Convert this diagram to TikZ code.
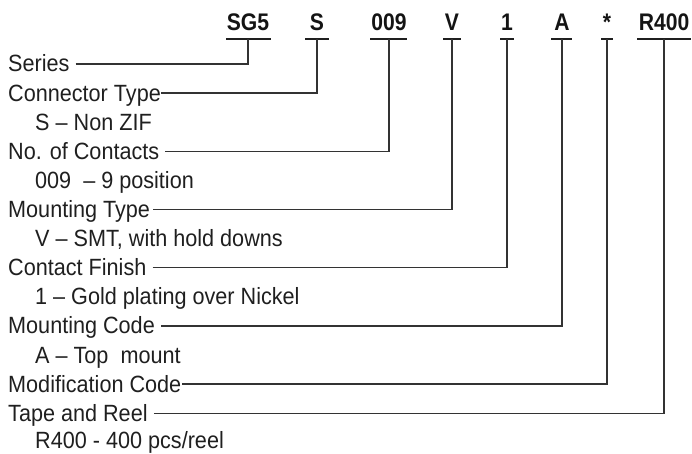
\documentclass[tikz,border=0pt]{standalone}
\usepackage{fontspec}
\setmainfont[FakeStretch=0.92]{Liberation Sans}
\newfontfamily\codefont[FakeStretch=0.88]{Liberation Sans}
\begin{document}
\begin{tikzpicture}[x=1pt,y=-1pt,
  lbl/.style={anchor=base west,inner sep=0pt,font=\fontsize{23.5}{23.5}\selectfont,text=black!88},
  code/.style={anchor=base,inner sep=0pt,font=\codefont\bfseries\fontsize{24}{24}\selectfont,text=black!92},
  lead/.style={draw=black!80,line width=1.4pt},
  uline/.style={draw=black!88,line width=2.4pt}]
\useasboundingbox (0,0) rectangle (692,454);
% codes
\node[code] (cSG) at (248,31) {SG5};
\node[code] (cS) at (317,31) {S};
\node[code] (c009) at (389,31) {009};
\node[code] (cV) at (452,31) {V};
\node[code] (c1) at (507,31) {1};
\node[code] (cA) at (562,31) {A};
\node[code] (cX) at (607,31) {*};
\node[code] (cR) at (664,31) {R400};
% underlines
\coordinate (uSG) at (248,39); \draw[uline] (226,39) -- (271,39);
\coordinate (uS) at (317,39); \draw[uline] (305,39) -- (329,39);
\coordinate (u009) at (389,39); \draw[uline] (370,39) -- (407,39);
\coordinate (uV) at (452,39); \draw[uline] (443,39) -- (461,39);
\coordinate (u1) at (507,39); \draw[uline] (500,39) -- (514,39);
\coordinate (uA) at (562,39); \draw[uline] (551,39) -- (572,39);
\coordinate (uX) at (607,39); \draw[uline] (601,39) -- (613,39);
\coordinate (uR) at (664,39); \draw[uline] (637,39) -- (691,39);
% labels (baseline = centre + 8)
\node[lbl] (l0) at (8,72) {Series};
\node[lbl] (l1) at (8,101.1) {Connector Type};
\node[lbl] (l2) at (35,130.2) {S -- Non ZIF};
\node[lbl] (l3) at (8,159.3) {No. of Contacts};
\node[lbl] (l4) at (35,188.4) {009\ \ -- 9 position};
\node[lbl] (l5) at (8,217.5) {Mounting Type};
\node[lbl] (l6) at (35,246.6) {V -- SMT, with hold downs};
\node[lbl] (l7) at (8,275.7) {Contact Finish};
\node[lbl] (l8) at (35,304.8) {1 -- Gold plating over Nickel};
\node[lbl] (l9) at (8,333.9) {Mounting Code};
\node[lbl] (l10) at (35,363) {A -- Top\ \ mount};
\node[lbl] (l11) at (8,392.1) {Modification Code};
\node[lbl] (l12) at (8,421.2) {Tape and Reel};
\node[lbl] (l13) at (35,448.5) {R400 - 400 pcs/reel};
% leaders
\draw[lead] ([xshift=6pt,yshift=8pt]l0.base east) -- ([yshift=8pt]l0.base east -| uSG) -- (uSG);
\draw[lead] ([xshift=0pt,yshift=8pt]l1.base east) -- ([yshift=8pt]l1.base east -| uS) -- (uS);
\draw[lead] ([xshift=6pt,yshift=8pt]l3.base east) -- ([yshift=8pt]l3.base east -| u009) -- (u009);
\draw[lead] ([xshift=3pt,yshift=8pt]l5.base east) -- ([yshift=8pt]l5.base east -| uV) -- (uV);
\draw[lead] ([xshift=6pt,yshift=8pt]l7.base east) -- ([yshift=8pt]l7.base east -| u1) -- (u1);
\draw[lead] ([xshift=6pt,yshift=8pt]l9.base east) -- ([yshift=8pt]l9.base east -| uA) -- (uA);
\draw[lead] ([xshift=1pt,yshift=8pt]l11.base east) -- ([yshift=8pt]l11.base east -| uX) -- (uX);
\draw[lead] ([xshift=6pt,yshift=8pt]l12.base east) -- ([yshift=8pt]l12.base east -| uR) -- (uR);
\end{tikzpicture}
\end{document}
